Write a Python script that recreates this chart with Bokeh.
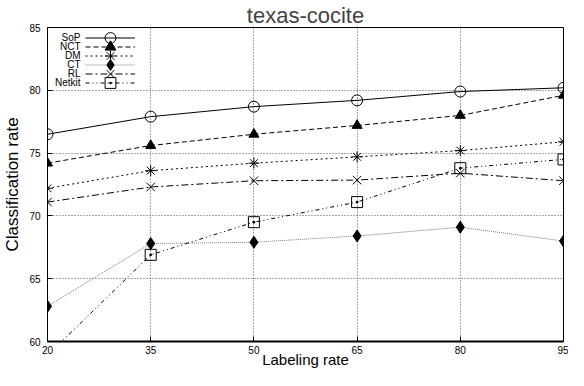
from bokeh.plotting import figure
from bokeh.models import (Range1d, FixedTicker, Legend, LegendItem, Label)
from bokeh.embed import file_html
from bokeh.resources import INLINE

labeling_rate = [20, 35, 50, 65, 80, 95]
sop = [76.5, 77.9, 78.7, 79.2, 79.9, 80.2]
nct = [74.2, 75.6, 76.5, 77.2, 78.0, 79.6]
dm = [72.2, 73.6, 74.2, 74.7, 75.2, 75.9]
ct = [62.8, 67.8, 67.9, 68.4, 69.1, 68.0]
rl = [71.1, 72.3, 72.8, 72.85, 73.4, 72.8]
netkit = [58.9, 66.9, 69.5, 71.1, 73.8, 74.5]
y_ticks = [60, 65, 70, 75, 80, 85]
series_names = ["SoP", "NCT", "DM", "CT", "RL", "Netkit"]

FONT = "Liberation Sans"

p = figure(width=568, height=370, output_backend="svg", toolbar_location=None,
           x_range=Range1d(20, 95), y_range=Range1d(60, 85),
           min_border_left=42, min_border_right=5, min_border_top=20, min_border_bottom=0)

p.title.text = "texas-cocite"
p.title.align = "center"
p.title.text_font = FONT
p.title.text_font_size = "22px"
p.title.text_font_style = "normal"
p.title.standoff = 0
p.title.offset = 0

p.xaxis.axis_label = "Labeling rate"
p.yaxis.axis_label = "Classification rate"
for ax in (p.xaxis[0], p.yaxis[0]):
    ax.axis_label_text_font = FONT
    ax.axis_label_text_font_style = "normal"
    ax.major_label_text_font = FONT
    ax.major_label_text_font_size = "10px"
    ax.major_label_text_color = "black"
    ax.axis_label_text_color = "black"
    ax.major_tick_in = 5
    ax.major_tick_out = 0
    ax.minor_tick_in = 0
    ax.minor_tick_out = 0
    ax.axis_line_color = "black"
    ax.major_tick_line_color = "black"
p.xaxis.axis_label_text_font_size = "15px"
p.yaxis.axis_label_text_font_size = "17px"
p.xaxis.axis_label_standoff = -6
p.yaxis.axis_label_standoff = 4
p.xaxis.major_label_standoff = 4
p.yaxis.major_label_standoff = 7
p.xaxis.axis_line_width = 2
p.xaxis.ticker = FixedTicker(ticks=labeling_rate)
p.yaxis.ticker = FixedTicker(ticks=y_ticks)

p.xgrid.ticker = FixedTicker(ticks=labeling_rate)
p.ygrid.ticker = FixedTicker(ticks=y_ticks)
for g in (p.xgrid[0], p.ygrid[0]):
    g.grid_line_color = "#555555"
    g.grid_line_dash = "1 2"
    g.grid_line_width = 1

p.outline_line_color = "black"
p.outline_line_width = 1
p.background_fill_color = "white"

styles = [
    (sop, "solid", "black", "circle", 11, None),
    (nct, "5 3", "black", "triangle", 10, "black"),
    (dm, "2 3", "black", "asterisk", 11, None),
    (ct, "1 1", "#777777", "diamond", 12, "black"),
    (rl, "7 3 2 3", "black", "x", 12, None),
    (netkit, "4 3 1 3 1 3", "black", "square_dot", 11, None),
]

# legend layout (screen px, measured from the plot frame's bottom-left)
FRAME_H = 314
ROW_PITCH = 9
FIRST_ROW = 10
GLYPH_H = 27

for i, (name, (vals, dash, lcolor, marker, size, fill)) in enumerate(zip(series_names, styles)):
    r1 = p.line(labeling_rate, vals, line_color=lcolor, line_dash=dash, line_width=1)
    r2 = p.scatter(labeling_rate, vals, marker=marker, size=size,
                   line_color="black", line_width=1,
                   fill_color=fill if fill else "white",
                   fill_alpha=1 if fill else 0)
    center = FIRST_ROW + ROW_PITCH * i
    leg = Legend(items=[LegendItem(label="", renderers=[r1, r2])],
                 location=(38, FRAME_H - center - GLYPH_H / 2),
                 glyph_width=50, glyph_height=GLYPH_H, label_height=GLYPH_H, label_width=0,
                 label_standoff=0, spacing=0, padding=0, margin=0,
                 border_line_color=None, background_fill_alpha=0,
                 label_text_font_size="1px")
    p.add_layout(leg, "center")
    p.add_layout(Label(x=33, y=FRAME_H - center, x_units="screen", y_units="screen",
                       text=name, text_align="right", text_baseline="middle",
                       text_font=FONT, text_font_size="10px", text_color="black"))

open("out.html", "w").write(file_html(p, INLINE))
